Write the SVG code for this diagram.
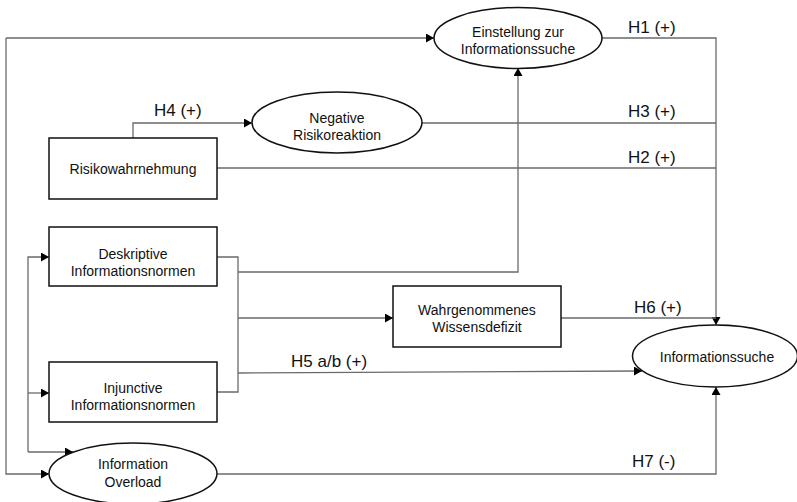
<svg xmlns="http://www.w3.org/2000/svg" width="797" height="502" viewBox="0 0 797 502">
<style>
.n{fill:#fff;stroke:#111;stroke-width:1.5}
.t{font-family:"Liberation Sans",Arial,sans-serif;font-size:14px;fill:#111;text-anchor:middle}
.h{font-family:"Liberation Sans",Arial,sans-serif;font-size:17px;fill:#111}
.c{fill:none;stroke:#6a6a6a;stroke-width:1.3}
.a{marker-end:url(#arr)}
</style>
<defs>
<marker id="arr" markerUnits="userSpaceOnUse" markerWidth="9" markerHeight="10" refX="8" refY="4.5" orient="auto">
<path d="M0,0 L8,4.5 L0,9 z" fill="#000"/>
</marker>
</defs>
<rect width="797" height="502" fill="#fff"/>
<g id="connectors">
<path class="c a" d="M6,38 H434"/>
<path class="c a" d="M6,38 V474 H49"/>
<path class="c a" d="M133,138 V123 H252"/>
<path class="c" d="M217,168 H716"/>
<path class="c" d="M422,123 H716"/>
<path class="c a" d="M602,38 H716 V325"/>
<path class="c" d="M217,257 H238 V392 H217"/>
<path class="c a" d="M238,272 H518 V68"/>
<path class="c a" d="M238,318 H393"/>
<path class="c a" d="M238,373 L642,371"/>
<path class="c" d="M561,318 H716"/>
<path class="c a" d="M28,452 V257 H49"/>
<path class="c a" d="M28,393 H49"/>
<path class="c a" d="M28,452 H73"/>
<path class="c a" d="M217,474 H716 V387"/>
</g>
<g id="labels">
<text class="h" x="628" y="33">H1 (+)</text>
<text class="h" x="154" y="116">H4 (+)</text>
<text class="h" x="628" y="117">H3 (+)</text>
<text class="h" x="628" y="163">H2 (+)</text>
<text class="h" x="634" y="313">H6 (+)</text>
<text class="h" x="291" y="367">H5 a/b (+)</text>
<text class="h" x="632" y="467">H7 (-)</text>
</g>
<g id="einstellung">
<ellipse class="n" cx="518" cy="38" rx="84" ry="30.5"/>
<text class="t" x="518" y="37">Einstellung zur</text>
<text class="t" x="518" y="54">Informationssuche</text>
</g>
<g id="negative">
<ellipse class="n" cx="337" cy="122.5" rx="85" ry="30.5"/>
<text class="t" x="337" y="123">Negative</text>
<text class="t" x="337" y="140">Risikoreaktion</text>
</g>
<g id="risiko">
<rect class="n" x="49" y="138" width="168" height="61"/>
<text class="t" x="133" y="174">Risikowahrnehmung</text>
</g>
<g id="deskriptive">
<rect class="n" x="49" y="227" width="168" height="59"/>
<text class="t" x="133" y="259">Deskriptive</text>
<text class="t" x="133" y="276">Informationsnormen</text>
</g>
<g id="injunctive">
<rect class="n" x="49" y="362" width="168" height="60"/>
<text class="t" x="133" y="393">Injunctive</text>
<text class="t" x="133" y="410">Informationsnormen</text>
</g>
<g id="overload">
<ellipse class="n" cx="133" cy="473.5" rx="84" ry="30.5"/>
<text class="t" x="133" y="469">Information</text>
<text class="t" x="133" y="487">Overload</text>
</g>
<g id="wissensdefizit">
<rect class="n" x="393" y="286" width="168" height="61"/>
<text class="t" x="477" y="315">Wahrgenommenes</text>
<text class="t" x="477" y="332">Wissensdefizit</text>
</g>
<g id="informationssuche">
<ellipse class="n" cx="715" cy="356" rx="82.5" ry="31"/>
<text class="t" x="717" y="362">Informationssuche</text>
</g>
</svg>
